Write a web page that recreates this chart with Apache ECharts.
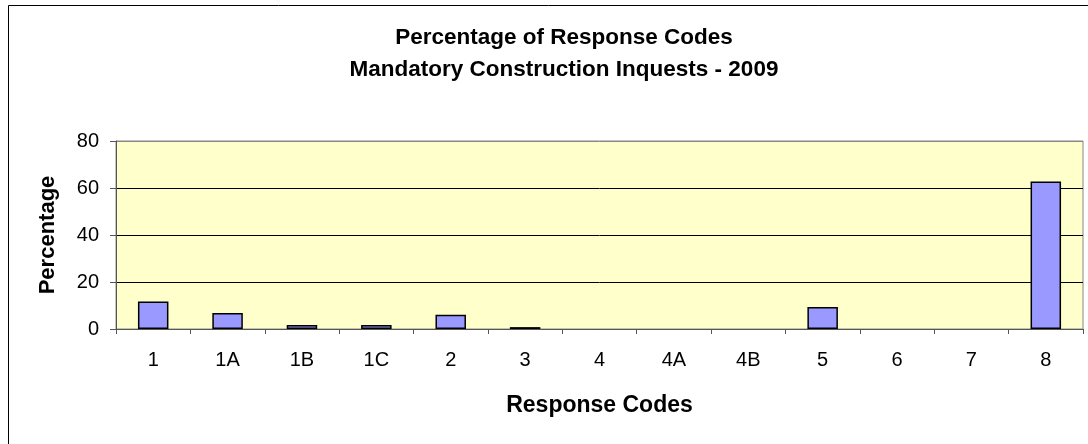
<!DOCTYPE html>
<html>
<head>
<meta charset="utf-8">
<title>Percentage of Response Codes</title>
<script src="https://cdn.jsdelivr.net/npm/echarts@6/dist/echarts.min.js"></script>
<style>
  html, body { margin: 0; padding: 0; background: #fff; }
  #chart { width: 1088px; height: 444px; }
</style>
</head>
<body>
<div id="chart"></div>
<script>
// response codes along the x axis
var codes = ['1', '1A', '1B', '1C', '2', '3', '4', '4A', '4B', '5', '6', '7', '8'];
// percentage for each code
var percents = [11.7, 6.8, 1.7, 1.7, 6.1, 0.8, 0, 0, 0, 9.4, 0, 0, 62.8];
// y axis ticks
var yTicks = [0, 20, 40, 60, 80];

var font = '"Liberation Sans", Arial, sans-serif';
var chart = echarts.init(document.getElementById('chart'));

// empty codes get no outline, like the original (no stray line on the axis)
var barData = percents.map(function (v) {
    if (v === 0) {
        return { value: v, itemStyle: { borderWidth: 0 } };
    }
    return v;
});

var option = {
    animation: false,
    backgroundColor: '#fff',
    title: {
        text: 'Percentage of Response Codes\nMandatory Construction Inquests - 2009',
        left: 559,
        top: 17,
        textAlign: 'center',
        textStyle: {
            fontFamily: font,
            fontSize: 22.5,
            fontWeight: 'bold',
            color: '#000',
            lineHeight: 32
        }
    },
    graphic: [{
        type: 'rect',
        shape: { x: 8.5, y: 5.5, width: 1200, height: 600 },
        style: { fill: 'none', stroke: '#000', lineWidth: 1 },
        silent: true
    }],
    grid: {
        left: 116,
        right: 5,
        top: 141,
        bottom: 115,
        show: true,
        backgroundColor: '#FFFFCC',
        borderColor: '#888',
        borderWidth: 1
    },
    xAxis: {
        type: 'category',
        data: codes,
        name: 'Response Codes',
        nameLocation: 'middle',
        nameGap: 65,
        nameTextStyle: { fontFamily: font, fontSize: 23, fontWeight: 'bold', color: '#000' },
        axisLine: { lineStyle: { color: '#555', width: 1 } },
        axisTick: { show: true, alignWithLabel: false, length: 5, lineStyle: { color: '#555' } },
        axisLabel: { fontFamily: font, fontSize: 20, color: '#000', margin: 21 },
        splitLine: { show: false }
    },
    yAxis: {
        type: 'value',
        min: yTicks[0],
        max: yTicks[yTicks.length - 1],
        interval: 20,
        name: 'Percentage',
        nameLocation: 'middle',
        nameGap: 57,
        nameTextStyle: { fontFamily: font, fontSize: 22, fontWeight: 'bold', color: '#000' },
        axisLine: { show: true, lineStyle: { color: '#555', width: 1 } },
        axisTick: { show: true, length: 6, lineStyle: { color: '#555' } },
        axisLabel: { fontFamily: font, fontSize: 20, color: '#000', margin: 17 },
        splitLine: { show: true, lineStyle: { color: ['#000', '#000', '#000', '#000', '#888'], width: 1 } }
    },
    series: [{
        type: 'bar',
        data: barData,
        barWidth: '41%',
        itemStyle: { color: '#9999FF', borderColor: '#000', borderWidth: 1.5 }
    }]
};

chart.setOption(option);
</script>
</body>
</html>
